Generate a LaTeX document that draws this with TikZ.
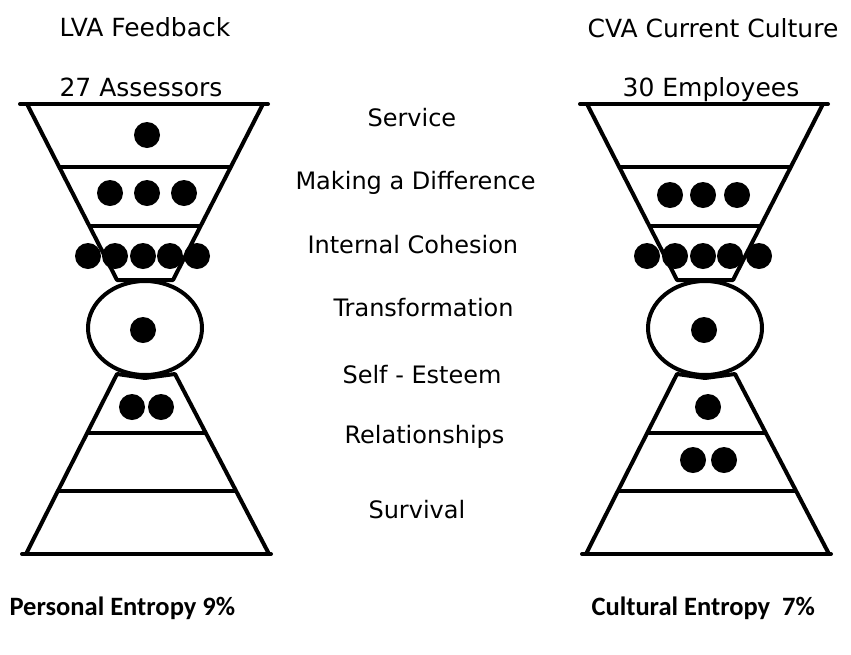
\documentclass[tikz,border=0pt]{standalone}
\usepackage{fontspec}
\setmainfont{DejaVu Sans}
\newfontfamily\entropyfont{Carlito}
\tikzset{
  glass/.style={line width=4pt,line join=round,line cap=round},
  rung/.style={line width=3.5pt},
  dot/.style={fill=black},
  head/.style={font=\fontsize{25}{30}\selectfont},
  lvl/.style={anchor=west,font=\fontsize{24}{28}\selectfont},
  entropy/.style={anchor=west,font=\entropyfont\bfseries\fontsize{26.5}{30}\selectfont}
}
% one hourglass outline, left copy
\newcommand{\hourglass}{%
  \draw[glass] (20,104) -- (268,104);
  \draw[glass] (27,104) -- (117,280) -- (173,280) -- (263,104);
  \draw[rung] (59,167) -- (231,167);
  \draw[rung] (89,226) -- (201,226);
  \draw[glass] (145,328) ellipse[x radius=57,y radius=47];
  \draw[glass] (26,554) -- (117,374) -- (145,378) -- (175,374) -- (269,554);
  \draw[glass] (22,554) -- (271,554);
  \draw[rung] (87,433) -- (206,433);
  \draw[rung] (58,491) -- (236,491);
}

\begin{document}
\begin{tikzpicture}[x=1pt,y=-1pt]
\useasboundingbox (0,0) rectangle (851,654);
\hourglass
\begin{scope}[xshift=560pt]
\hourglass
\end{scope}
% left dots
\fill[dot] (147,135) circle[radius=13];
\foreach \x in {110,147,184} \fill[dot] (\x,193) circle[radius=13];
\foreach \x in {88,115,143,170,197} \fill[dot] (\x,256) circle[radius=13];
\fill[dot] (143,330) circle[radius=13];
\foreach \x in {132,161} \fill[dot] (\x,407) circle[radius=13];
% right dots
\foreach \x in {670,703,737} \fill[dot] (\x,195) circle[radius=13];
\foreach \x in {647,675,703,730,759} \fill[dot] (\x,256) circle[radius=13];
\fill[dot] (704,330) circle[radius=13];
\fill[dot] (708,407) circle[radius=13];
\foreach \x in {693,724} \fill[dot] (\x,460) circle[radius=13];
% headings
\node[head] (lva) at (145,27) {LVA Feedback};
\node[head] (assessors) at (141,87) {27 Assessors};
\node[head] (cva) at (713,28) {CVA Current Culture};
\node[head] (employees) at (711,90) {30 Employees};
% levels
\node[lvl] (service) at (364,118) {Service};
\node[lvl] (difference) at (292,183) {Making a Difference};
\node[lvl] (cohesion) at (304,245) {Internal Cohesion};
\node[lvl] (transformation) at (330,308) {Transformation};
\node[lvl] (esteem) at (339,375) {Self - Esteem};
\node[lvl] (relationships) at (341,437) {Relationships};
\node[lvl] (survival) at (365,510) {Survival};
% entropy
\node[entropy] (personal) at (6,608) {Personal Entropy 9\%};
\node[entropy] (cultural) at (588,608) {Cultural Entropy~ 7\%};
\end{tikzpicture}
\end{document}
